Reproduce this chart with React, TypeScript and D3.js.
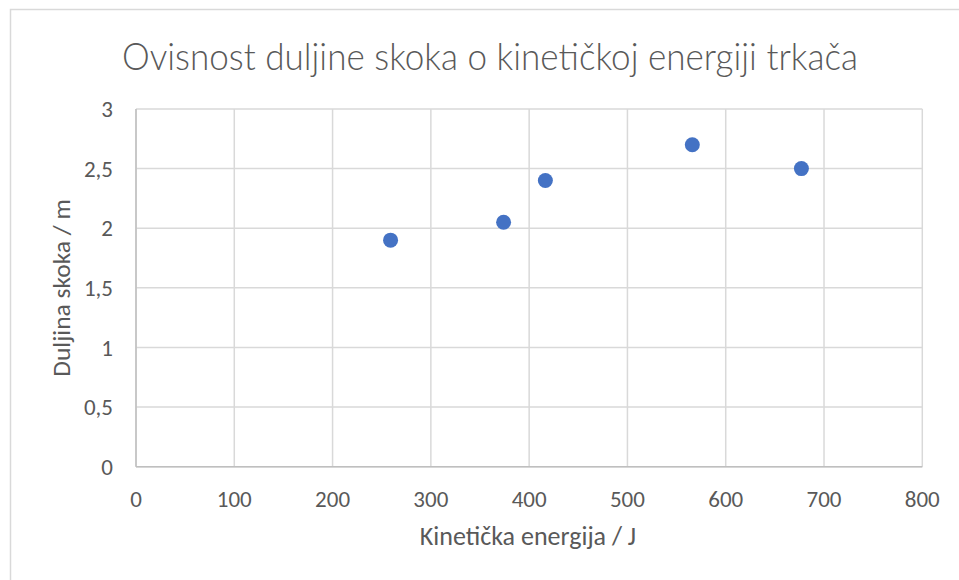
import * as d3 from "d3";

const energy = [259, 374, 416.5, 566, 677];
const jumpLength = [1.9, 2.05, 2.4, 2.7, 2.5];
const xTicks = [0, 100, 200, 300, 400, 500, 600, 700, 800];
const yTicks = [0, 0.5, 1, 1.5, 2, 2.5, 3];

const titleText = "Ovisnost duljine skoka o kinetičkoj energiji trkača";
const xTitle = "Kinetička energija / J";
const yTitle = "Duljina skoka / m";

const W = 959;
const H = 580;
const FONT = "Carlito, Calibri, 'Liberation Sans Narrow', 'Open Sans', sans-serif";
const GRID = "#d9d9d9";
const TEXT = "#595959";

export default function App() {
  const x = d3.scaleLinear().domain([0, 800]).range([136, 922.3]);
  const y = d3.scaleLinear().domain([0, 3]).range([466.7, 109]);
  const fmt = (v: number) => String(v).replace(".", ",");

  return (
    <div style={{ position: "absolute", left: 0, top: 0 }}>
      <svg width={W} height={H} style={{ display: "block", fontFamily: FONT }}>
        <rect x={0} y={0} width={W} height={H} fill="#fff" />
        <rect x={10.5} y={9.5} width={W + 10} height={H + 10} fill="none" stroke={GRID} strokeWidth={1.5} />

        {/* title is Calibri Light in the original */}
        <text
          x={490}
          y={70}
          textAnchor="middle"
          fontSize={37}
          fontFamily="Lato, Carlito, sans-serif"
          fontWeight={300}
          textLength={736}
          lengthAdjust="spacingAndGlyphs"
          fill={TEXT}
        >
          {titleText}
        </text>

        {/* grid */}
        {yTicks.map((t) => (
          <line key={"gy" + t} x1={x(0)} x2={x(800)} y1={y(t)} y2={y(t)} stroke={GRID} strokeWidth={1.5} />
        ))}
        {xTicks.map((t) => (
          <line key={"gx" + t} x1={x(t)} x2={x(t)} y1={y(0)} y2={y(3)} stroke={GRID} strokeWidth={1.5} />
        ))}
        <line x1={x(0)} x2={x(800)} y1={y(0)} y2={y(0)} stroke="#bfbfbf" strokeWidth={1.5} />
        <line x1={x(0)} x2={x(0)} y1={y(0)} y2={y(3)} stroke="#bfbfbf" strokeWidth={1.5} />

        {/* tick labels */}
        {yTicks.map((t) => (
          <text key={"ly" + t} x={113} y={y(t)} dy="0.35em" textAnchor="end" fontSize={23} fill={TEXT}>
            {fmt(t)}
          </text>
        ))}
        {xTicks.map((t) => (
          <text key={"lx" + t} x={x(t)} y={507} textAnchor="middle" fontSize={23} fill={TEXT}>
            {t}
          </text>
        ))}

        <text x={528} y={545} textAnchor="middle" fontSize={26} fill={TEXT}>
          {xTitle}
        </text>
        <text transform={`translate(70,288) rotate(-90)`} textAnchor="middle" fontSize={25.5} fill={TEXT}>
          {yTitle}
        </text>

        {energy.map((e, i) => (
          <circle key={i} cx={x(e)} cy={y(jumpLength[i])} r={7.5} fill="#4472c4" />
        ))}
      </svg>
    </div>
  );
}
